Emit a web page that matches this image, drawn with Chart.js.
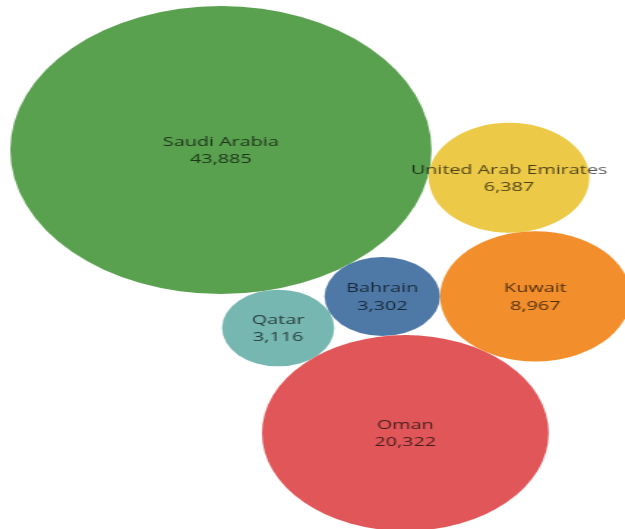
<!DOCTYPE html>
<html>
<head>
<meta charset="utf-8">
<script src="https://cdn.jsdelivr.net/npm/chart.js@4/dist/chart.umd.min.js"></script>
<style>
  html, body { margin: 0; padding: 0; background: #ffffff; overflow: hidden; }
  #stage { width: 625px; height: 529px; overflow: hidden; position: relative; }
  #wrap { position: absolute; left: 0; top: 0; width: 427px; height: 529px;
          transform: scaleX(1.4637); transform-origin: 0 0; }
</style>
</head>
<body>
<div id="stage"><div id="wrap"><canvas id="chart"></canvas></div></div>
<script>
// GCC countries and their values
const countries = ['Saudi Arabia', 'Qatar', 'Bahrain', 'Oman', 'Kuwait', 'United Arab Emirates'];
const values    = [43885, 3116, 3302, 20322, 8967, 6387];
const colors    = ['#59A14F', '#76B7B2', '#4E79A7', '#E15759', '#F28E2B', '#EDC948'];

// Packed-bubble layout: area proportional to value, each bubble tangent to two earlier ones
const RADIUS_SCALE = 0.687;
const ANCHOR = { x: 150.9, y: 150 };
const FIRST_ANGLE = 77.6 * Math.PI / 180;
// [index of bubble A, index of bubble B, side] for bubbles 2..n
const TANGENT_RULES = [null, null, [0, 1, -1], [1, 2, 1], [2, 3, -1], [0, 4, -1]];

function packBubbles(vals) {
  const r = vals.map(v => RADIUS_SCALE * Math.sqrt(v));
  const pos = [];
  pos[0] = { x: ANCHOR.x, y: ANCHOR.y };
  const d01 = r[0] + r[1];
  pos[1] = { x: pos[0].x + d01 * Math.cos(FIRST_ANGLE), y: pos[0].y + d01 * Math.sin(FIRST_ANGLE) };
  for (let i = 2; i < vals.length; i++) {
    const [ia, ib, side] = TANGENT_RULES[i];
    const a = pos[ia], b = pos[ib];
    const da = r[ia] + r[i], db = r[ib] + r[i];
    const dx = b.x - a.x, dy = b.y - a.y;
    const d = Math.hypot(dx, dy);
    const ux = dx / d, uy = dy / d;
    const along = (da * da - db * db + d * d) / (2 * d);
    const h = Math.sqrt(Math.max(0, da * da - along * along));
    pos[i] = { x: a.x + along * ux + side * h * (-uy), y: a.y + along * uy + side * h * ux };
  }
  return pos.map((p, i) => ({ x: p.x, y: p.y, r: r[i] }));
}

const bubbles = packBubbles(values);

// Two-line label (name + value) centred on each bubble
const bubbleLabels = {
  id: 'bubbleLabels',
  afterDatasetsDraw(chart) {
    const ctx = chart.ctx;
    const meta = chart.getDatasetMeta(0);
    ctx.save();
    ctx.font = '13.5px "Open Sans", sans-serif';
    ctx.fillStyle = 'rgba(0,0,0,0.68)';
    ctx.textAlign = 'center';
    ctx.textBaseline = 'middle';
    meta.data.forEach((el, i) => {
      ctx.fillText(countries[i], el.x, el.y - 8);
      ctx.fillText(values[i].toLocaleString('en-US'), el.x, el.y + 9.5);
    });
    ctx.restore();
  }
};

new Chart(document.getElementById('chart'), {
  type: 'bubble',
  data: {
    labels: countries,
    datasets: [{
      data: bubbles,
      backgroundColor: colors,
      borderWidth: 0,
      hoverRadius: 0,
      clip: false
    }]
  },
  options: {
    responsive: true,
    maintainAspectRatio: false,
    animation: false,
    layout: { padding: 0, autoPadding: false },
    events: [],
    plugins: { legend: { display: false }, tooltip: { enabled: false } },
    scales: {
      x: { type: 'linear', min: 0, max: 427, display: false },
      y: { type: 'linear', min: 0, max: 529, reverse: true, display: false }
    }
  },
  plugins: [bubbleLabels]
});
</script>
</body>
</html>
